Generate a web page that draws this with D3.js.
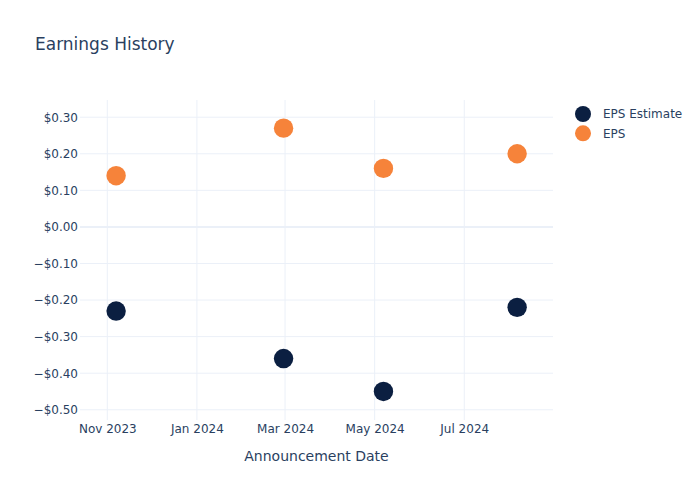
<!DOCTYPE html>
<html>
<head>
<meta charset="utf-8">
<script src="https://cdn.jsdelivr.net/npm/d3@7"></script>
<style>
  html, body { margin: 0; padding: 0; background: #fff; }
  svg { display: block; }
  text { font-family: "DejaVu Sans", Verdana, sans-serif; fill: #2a3f5f; }
</style>
</head>
<body>
<svg id="chart" width="700" height="500"></svg>
<script>
// ---- data ----
const dates = ["2023-11-07", "2024-02-29", "2024-05-07", "2024-08-06"];
const epsEstimate = [-0.23, -0.36, -0.45, -0.22];
const epsActual = [0.14, 0.27, 0.16, 0.20];
const seriesNames = ["EPS Estimate", "EPS"];
const seriesColors = ["#0b1f41", "#f6833a"];
const yTickValues = [0.3, 0.2, 0.1, 0.0, -0.1, -0.2, -0.3, -0.4, -0.5];
const xTickDates = ["2023-11-01", "2024-01-01", "2024-03-01", "2024-05-01", "2024-07-01"];
const title = "Earnings History";
const xAxisTitle = "Announcement Date";

// ---- layout ----
const W = 700, H = 500;
const plot = { left: 80, right: 553, top: 100, bottom: 420 };
const parse = s => { const [y, m, d] = s.split("-").map(Number); return new Date(y, m - 1, d); };

const svg = d3.select("#chart");

const x = d3.scaleTime()
  .domain([new Date(2023, 9, 13, 10), new Date(2024, 7, 30, 10)])
  .range([plot.left, plot.right]);
const y = d3.scaleLinear()
  .domain([-0.528, 0.347])
  .range([plot.bottom, plot.top]);

// gridlines
const grid = svg.append("g");
grid.selectAll("line.vx").data(xTickDates.map(parse)).enter().append("line")
  .attr("x1", d => x(d)).attr("x2", d => x(d))
  .attr("y1", plot.top).attr("y2", plot.bottom)
  .attr("stroke", "#ebf0f8").attr("stroke-width", 1);
grid.selectAll("line.hy").data(yTickValues).enter().append("line")
  .attr("x1", plot.left).attr("x2", plot.right)
  .attr("y1", d => y(d)).attr("y2", d => y(d))
  .attr("stroke", "#ebf0f8").attr("stroke-width", d => d === 0 ? 2 : 1);

// y axis labels
const fmt = v => {
  const s = "$" + Math.abs(v).toFixed(2);
  return v < -1e-9 ? "\u2212" + s : s;
};
const yAxis = d3.axisLeft(y).tickValues(yTickValues).tickFormat(fmt).tickSize(0).tickPadding(2);
const yg = svg.append("g").attr("transform", `translate(${plot.left},0)`).call(yAxis);
yg.select(".domain").remove();
yg.selectAll("text").attr("font-size", 12).style("fill", "#2a3f5f")
  .attr("font-family", "DejaVu Sans, Verdana, sans-serif");

// x axis labels
const xfmt = d3.timeFormat("%b %Y");
const xAxis = d3.axisBottom(x).tickValues(xTickDates.map(parse)).tickFormat(xfmt).tickSize(0).tickPadding(4);
const xg = svg.append("g").attr("transform", `translate(0,${plot.bottom})`).call(xAxis);
xg.select(".domain").remove();
xg.selectAll("text").attr("font-size", 12).style("fill", "#2a3f5f")
  .attr("font-family", "DejaVu Sans, Verdana, sans-serif");

// points
const series = [epsEstimate, epsActual];
series.forEach((vals, si) => {
  svg.append("g").selectAll("circle").data(vals).enter().append("circle")
    .attr("cx", (d, i) => x(parse(dates[i])))
    .attr("cy", d => y(d))
    .attr("r", 9.7)
    .attr("fill", seriesColors[si]);
});

// title
svg.append("text").attr("x", 35).attr("y", 50).attr("font-size", 17).text(title);

// axis title
svg.append("text").attr("x", (plot.left + plot.right) / 2).attr("y", 461)
  .attr("text-anchor", "middle").attr("font-size", 14).text(xAxisTitle);

// legend
const leg = svg.append("g");
seriesNames.forEach((name, i) => {
  const cy = 114 + i * 19.3;
  leg.append("circle").attr("cx", 583).attr("cy", cy).attr("r", 8).attr("fill", seriesColors[i]);
  leg.append("text").attr("x", 603).attr("y", cy + 4.3).attr("font-size", 12).text(name);
});
</script>
</body>
</html>
